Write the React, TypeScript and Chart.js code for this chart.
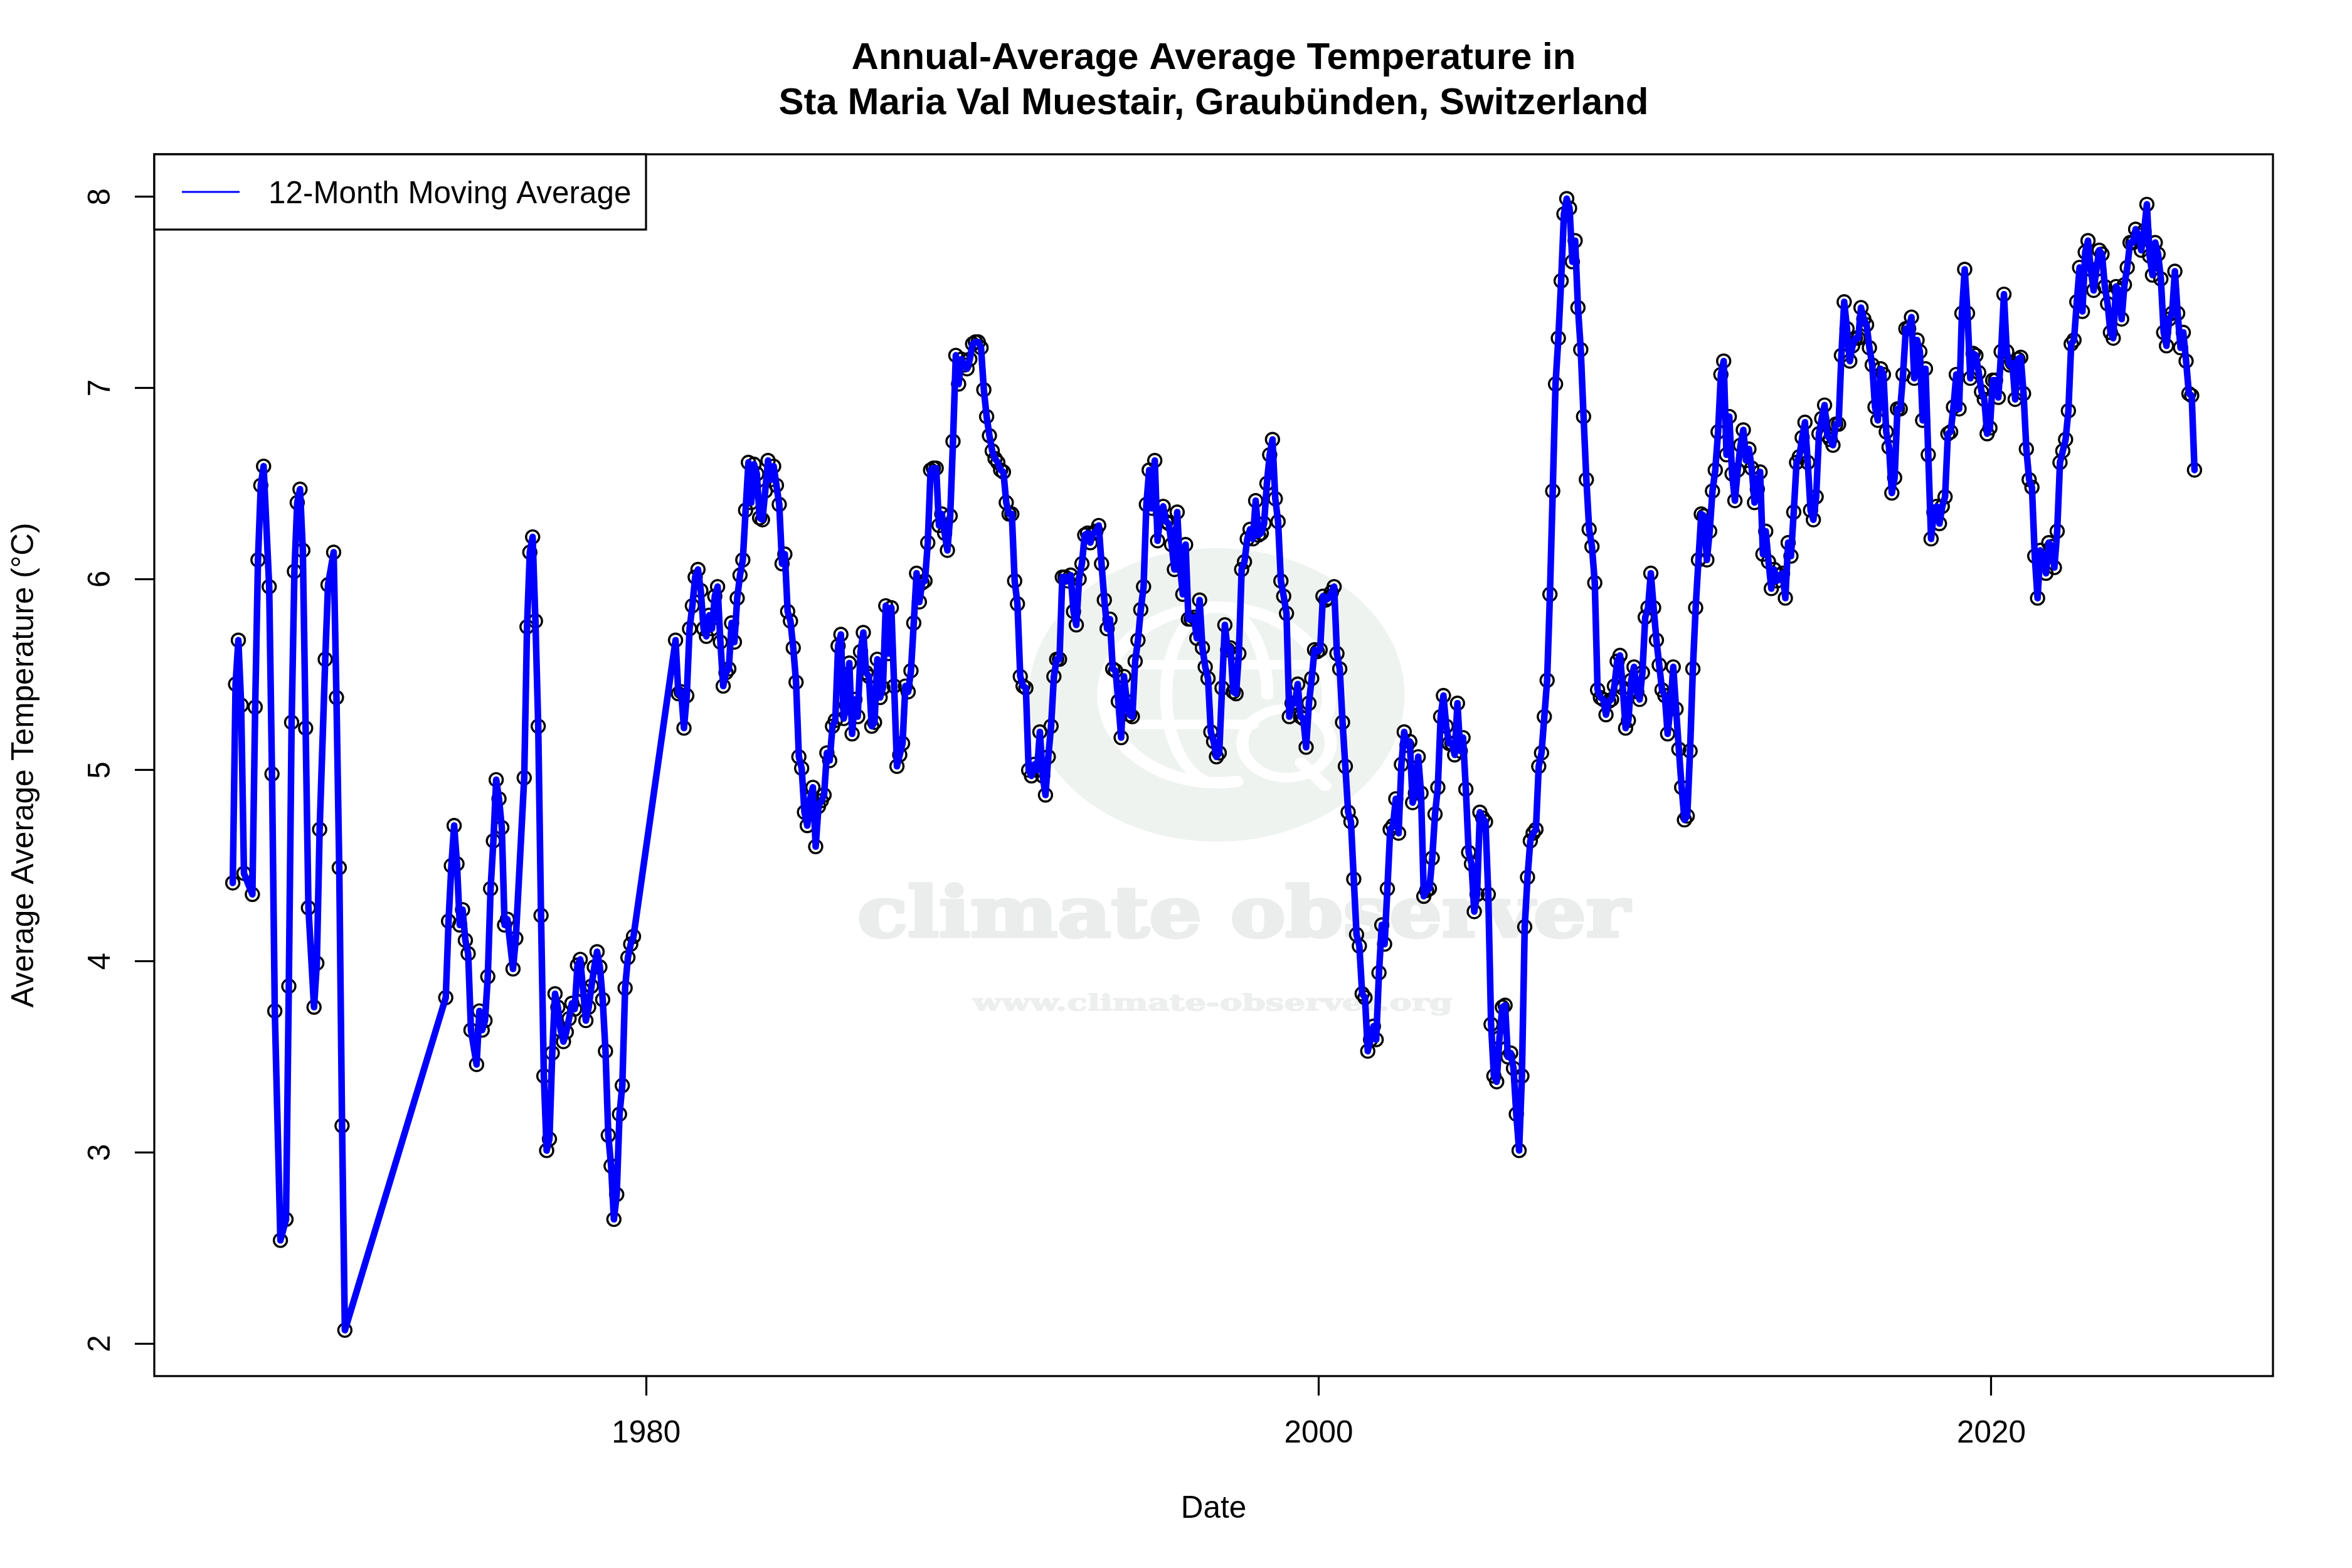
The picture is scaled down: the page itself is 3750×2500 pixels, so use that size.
import React, { useEffect, useRef } from "react";
import { Chart, registerables } from "chart.js";

Chart.register(...registerables);

const titleLines = ["Annual-Average Average Temperature in", "Sta Maria Val Muestair, Graubünden, Switzerland"];
const seriesLabel = "12-Month Moving Average";
const xAxisTitle = "Date";
const yAxisTitle = "Average Average Temperature (°C)";
const xTickYears = [1980, 2000, 2020];
const yTickValues = [2, 3, 4, 5, 6, 7, 8];

// Monthly readings; null marks a month with no plotted point. Start: Sep 1967.
const temps1967: (number | null)[] = [
  4.41, 5.45, 5.68, 5.34, 4.46, null, null, 4.35, 5.33, 6.1, 6.49, 6.59, null, 5.96, 4.98, 3.74, null, 2.54, null, 2.65,
  3.87, 5.25, 6.04, 6.4, 6.47, 6.15, 5.22, 4.28, null, 3.76, 3.99, 4.69, null, 5.58, 5.97, null, 6.14, 5.38, 4.49, 3.14, 2.07,
];
// Start: Jan 1974.
const temps1974: (number | null)[] = [
  3.81, 4.21, 4.5, 4.71, 4.51, 4.19, 4.27, 4.11, 4.04, 3.64, null, 3.46, 3.74, 3.64, 3.69, 3.92, 4.38, 4.63, 4.95, 4.85,
  4.7, 4.19, 4.22, null, 3.96, 4.12, null, null, 4.96, 5.75, 6.14, 6.22, 5.78, 5.23, 4.24, 3.4, 3.01, 3.07, 3.52, 3.83,
  3.76, 3.64, 3.58, 3.63, 3.7, 3.78, 3.75, 3.98, 4.01, 3.85, 3.69, 3.76, 3.87, 3.97, 4.05, 3.97, 3.8, 3.53, 3.09, 2.93,
  2.65, 2.78, 3.2, 3.35, 3.86, 4.02, 4.09, 4.13,
];
// Start: Nov 1980.
const temps1980: number[] = [
  5.68, 5.4, 5.41, 5.22, 5.39, 5.74, 5.86, 6.01, 6.05, 5.94, 5.74, 5.7, 5.81, 5.74, 5.91, 5.96, 5.67, 5.44, 5.51, 5.53,
  5.77, 5.67, 5.9, 6.02, 6.1, 6.36, 6.61, 6.4, 6.6, 6.55, 6.32, 6.31, 6.46, 6.62, 6.52, 6.59, 6.49, 6.39, 6.08, 6.13,
  5.83, 5.78, 5.64, 5.46, 5.07, 5.01, 4.78, 4.71, 4.85, 4.91, 4.6, 4.81, 4.84, 4.87, 5.09, 5.05, 5.23, 5.26, 5.65, 5.71,
  5.27, 5.34, 5.56, 5.19, 5.37, 5.28, 5.62, 5.72, 5.51, 5.49, 5.23, 5.25, 5.58, 5.38, 5.43, 5.86, 5.61, 5.85, 5.44, 5.02,
  5.08, 5.14, 5.44, 5.41, 5.52, 5.77, 6.03, 5.88, 5.98, 5.99, 6.19, 6.57, 6.58, 6.58, 6.28, 6.34, 6.24, 6.15, 6.33, 6.72,
  7.17, 7.02, 7.15, 7.12, 7.1, 7.15, 7.23, 7.24, 7.24, 7.21, 6.99, 6.85, 6.75, 6.67, 6.63, 6.61, 6.57, 6.56, 6.4, 6.34,
  6.34, 5.99, 5.87, 5.49, 5.44, 5.43, 5.0, 4.97, 5.03, 5.0, 5.2, 4.97, 4.87, 5.07, 5.23, 5.49, 5.58, 5.58, 6.01, 6.01,
  5.99, 6.02, 5.83, 5.76, 6.0, 6.08, 6.23, 6.24, 6.19, 6.24, 6.25, 6.28, 6.08, 5.89, 5.74, 5.79, 5.53, 5.52, 5.36, 5.17,
  5.49, 5.36, 5.29, 5.28, 5.57, 5.68, 5.84, 5.96, 6.39, 6.57, 6.37, 6.62, 6.2, 6.34, 6.38, 6.3, 6.29, 6.18, 6.05, 6.35,
  6.07, 5.92, 6.18, 5.79, 5.79, 5.8, 5.69, 5.89, 5.64, 5.54, 5.48, 5.2, 5.15, 5.07, 5.09, 5.43, 5.76, 5.63, 5.64, 5.41,
  5.4, 5.61, 6.05, 6.09, 6.21, 6.26, 6.21, 6.41, 6.23, 6.24, 6.29, 6.5, 6.65, 6.73, 6.42, 6.3, 5.99, 5.91, 5.82, 5.28,
  5.35, 5.35, 5.45, 5.28, 5.27, 5.12, 5.35, 5.48, 5.63, 5.62, 5.63, 5.91, 5.89, 5.9, 5.93, 5.96, 5.61, 5.53, 5.25, 5.02,
  4.78, 4.73, 4.43, 4.14, 4.08, 3.83, 3.81, 3.53, 3.59, 3.66, 3.59, 3.94, 4.19, 4.09, 4.38, 4.69, 4.71, 4.85, 4.67, 5.03,
  5.2, 5.13, 5.15, 4.83, 4.88, 5.07, 4.88, 4.34, 4.37, 4.38, 4.54, 4.77, 4.91, 5.28, 5.39, 5.23, 5.14, 5.14, 5.08, 5.35,
  5.1, 5.17, 4.9, 4.57, 4.51, 4.26, 4.35, 4.78, 4.75, 4.73, 4.35, 3.67, 3.4, 3.37, 3.6, 3.76, 3.77, 3.5, 3.52, 3.44,
  3.2, 3.01, 3.4, 4.18, 4.44, 4.63, 4.67, 4.69, 5.02, 5.09, 5.28, 5.47, 5.92, 6.46, 7.02, 7.26, 7.56, 7.91, 7.99, 7.94,
  7.66, 7.77, 7.42, 7.2, 6.85, 6.52, 6.26, 6.17, 5.98, 5.42, 5.38, 5.37, 5.29, 5.36, 5.37, 5.44, 5.57, 5.6, 5.43, 5.22,
  5.26, 5.47, 5.54, 5.41, 5.37, 5.51, 5.8, 5.85, 6.03, 5.85, 5.68, 5.55, 5.42, 5.39, 5.19, 5.33, 5.54, 5.32, 5.11, 4.91,
  4.74, 4.76, 5.1, 5.53, 5.85, 6.1, 6.34, 6.33, 6.1, 6.25, 6.46, 6.57, 6.77, 7.07, 7.14, 6.65, 6.85, 6.55, 6.41, 6.57,
  6.7, 6.78, 6.62, 6.68, 6.58, 6.4, 6.47, 6.56, 6.13, 6.25, 6.09, 5.95, 6.05, 5.99, 6.02, 6.03, 5.9, 6.19, 6.12, 6.35,
  6.61, 6.64, 6.74, 6.82, 6.61, 6.36, 6.31, 6.43, 6.76, 6.84, 6.91, 6.75, 6.73, 6.7, 6.81, 6.81, 7.17, 7.45, 7.31, 7.14,
  7.22, 7.26, 7.26, 7.42, 7.36, 7.33, 7.21, 7.12, 6.9, 6.83, 7.1, 7.07, 6.77, 6.69, 6.45, 6.53, 6.89, 6.89, 7.07, 7.31,
  7.31, 7.37, 7.05, 7.25, 7.19, 6.83, 7.1, 6.65, 6.21, 6.35, 6.38, 6.29, 6.38, 6.43, 6.76, 6.77, 6.9, 7.07, 6.89, 7.39,
  7.62, 7.39, 7.05, 7.18, 7.17, 7.08, 6.98, 6.94, 6.76, 6.79, 7.04, 7.04, 6.95, 7.19, 7.49, 7.19, 7.12, 7.13, 6.94, 7.15,
  7.16, 6.97, 6.68, 6.52, 6.48, 6.12, 5.9, 6.15, 6.12, 6.03, 6.19, 6.17, 6.06, 6.25, 6.61, 6.67, 6.73, 6.88, 7.23, 7.25,
  7.45, 7.63, 7.4, 7.71, 7.77, 7.62, 7.51, 7.62, 7.72, 7.7, 7.53, 7.44, 7.29, 7.26, 7.53, 7.51, 7.36, 7.54, 7.63, 7.76,
  7.76, 7.83, 7.8, 7.72, 7.82, 7.96, 7.69, 7.59, 7.76, 7.7, 7.57, 7.29, 7.22, 7.36, 7.39, 7.61, 7.39, 7.21, 7.29, 7.14,
  6.97, 6.96, 6.57,
];

const seriesStarts: [number, number, (number | null)[]][] = [
  [1967, 9, temps1967],
  [1974, 1, temps1974],
  [1980, 11, temps1980],
];

const points: { x: number; y: number }[] = [];
for (const [year, month, values] of seriesStarts) {
  values.forEach((v, i) => {
    if (v !== null) points.push({ x: year + (month - 1 + i + 0.5) / 12, y: v });
  });
}

const FONT = '"Liberation Sans", Arial, sans-serif';
const LABEL_SIZE = 49.4;

const watermark = {
  id: "watermark",
  beforeDatasetsDraw(chart: Chart) {
    const ctx = chart.ctx;
    ctx.save();
    ctx.translate(1940, 1108);
    ctx.scale(1.28, 1);
    ctx.fillStyle = "#EFF3F0";
    ctx.beginPath();
    ctx.arc(0, 0, 234, 0, Math.PI * 2);
    ctx.fill();
    ctx.strokeStyle = "#FFFFFF";
    ctx.lineCap = "round";
    const rad = (d: number) => (d * Math.PI) / 180;
    ctx.lineWidth = 18;
    ctx.beginPath();
    ctx.arc(0, 0, 140, rad(80), rad(375));
    ctx.stroke();
    ctx.lineWidth = 15;
    ctx.beginPath();
    ctx.ellipse(0, 0, 63, 140, 0, rad(105), rad(360));
    ctx.stroke();
    ctx.beginPath();
    ctx.moveTo(-132, -48);
    ctx.lineTo(132, -48);
    ctx.moveTo(-132, 47);
    ctx.lineTo(45, 47);
    ctx.stroke();
    ctx.beginPath();
    ctx.arc(87, 77, 55, 0, Math.PI * 2);
    ctx.stroke();
    ctx.lineWidth = 16;
    ctx.beginPath();
    ctx.moveTo(105, 108);
    ctx.lineTo(135, 145);
    ctx.stroke();
    ctx.restore();

    const stretched = (
      text: string,
      font: string,
      color: string,
      left: number,
      right: number,
      base: number,
      heavy: number,
    ) => {
      ctx.save();
      ctx.font = font;
      ctx.fillStyle = color;
      ctx.strokeStyle = color;
      ctx.lineWidth = heavy;
      ctx.lineJoin = "round";
      ctx.textAlign = "left";
      ctx.textBaseline = "alphabetic";
      const w = ctx.measureText(text).width;
      ctx.translate(left, base);
      ctx.scale((right - left) / w, 1);
      ctx.fillText(text, 0, 0);
      ctx.strokeText(text, 0, 0);
      ctx.restore();
    };
    stretched("climate observer", 'bold 110px "DejaVu Serif"', "#EBEDED", 1367, 2598, 1493, 5);
    stretched("www.climate-observer.org", 'bold 35px "DejaVu Serif"', "#EDEEEE", 1551, 2316, 1611, 1.5);
  },
};

const frameAndLegend = {
  id: "frameAndLegend",
  afterDraw(chart: Chart) {
    const ctx = chart.ctx;
    const { left, top, right, bottom } = chart.chartArea;
    ctx.save();
    ctx.strokeStyle = "#000000";
    ctx.lineWidth = 3.2;
    ctx.strokeRect(left, top, right - left, bottom - top);
    // legend box
    ctx.fillStyle = "#FFFFFF";
    ctx.fillRect(left, top, 784, 120);
    ctx.strokeRect(left, top, 784, 120);
    ctx.strokeStyle = "#0000FF";
    ctx.beginPath();
    ctx.moveTo(left + 44, top + 60);
    ctx.lineTo(left + 136, top + 60);
    ctx.stroke();
    ctx.fillStyle = "#000000";
    ctx.font = `${LABEL_SIZE}px ${FONT}`;
    ctx.textAlign = "left";
    ctx.textBaseline = "alphabetic";
    ctx.fillText(seriesLabel, left + 182, top + 78);
    ctx.restore();
  },
};

export default function App() {
  const ref = useRef<HTMLCanvasElement>(null);
  useEffect(() => {
    document.body.style.margin = "0";
    const chart = new Chart(ref.current!, {
      type: "scatter",
      data: {
        datasets: [
          {
            label: seriesLabel,
            data: points,
            showLine: true,
            borderColor: "#0000FF",
            borderWidth: 10.5,
            borderJoinStyle: "round",
            borderCapStyle: "round",
            pointRadius: 0,
            tension: 0,
            order: 1,
          },
          {
            label: "Monthly points",
            data: points,
            showLine: false,
            pointStyle: "circle",
            pointRadius: 10.5,
            pointBorderWidth: 3.4,
            pointBorderColor: "#000000",
            pointBackgroundColor: "rgba(0,0,0,0)",
            order: 2,
          },
        ],
      },
      options: {
        responsive: false,
        animation: false,
        devicePixelRatio: 1,
        layout: { padding: { left: 0, right: 126, top: 0, bottom: 0 } },
        plugins: {
          legend: { display: false },
          tooltip: { enabled: false },
          title: {
            display: true,
            text: titleLines,
            fullSize: false,
            color: "#000000",
            font: { family: FONT, size: 60, weight: "bold", lineHeight: 1.2 },
            padding: { top: 57, bottom: 45 },
          },
        },
        scales: {
          x: {
            type: "linear",
            min: 1965.375,
            max: 2028.375,
            afterBuildTicks: (s: any) => {
              s.ticks = xTickYears.map((value) => ({ value }));
            },
            afterFit: (s: any) => {
              s.height = 306;
            },
            grid: { display: true, drawOnChartArea: false, tickLength: 31, tickWidth: 3.2, tickColor: "#000000" },
            border: { display: false },
            ticks: {
              color: "#000000",
              font: { family: FONT, size: LABEL_SIZE },
              padding: 32,
              maxRotation: 0,
              callback: (v: any) => String(v),
            },
            title: {
              display: true,
              text: xAxisTitle,
              color: "#000000",
              font: { family: FONT, size: LABEL_SIZE },
              padding: { top: 0, bottom: 64 },
            },
          },
          y: {
            type: "linear",
            min: 1.83,
            max: 8.222,
            afterBuildTicks: (s: any) => {
              s.ticks = yTickValues.map((value) => ({ value }));
            },
            afterFit: (s: any) => {
              s.width = 246;
            },
            grid: { display: true, drawOnChartArea: false, tickLength: 31, tickWidth: 3.2, tickColor: "#000000" },
            border: { display: false },
            ticks: {
              color: "#000000",
              font: { family: FONT, size: LABEL_SIZE },
              padding: 40,
              minRotation: 90,
              maxRotation: 90,
              crossAlign: "center",
              callback: (v: any) => String(v),
            },
            title: {
              display: true,
              text: yAxisTitle,
              color: "#000000",
              font: { family: FONT, size: LABEL_SIZE },
              padding: { top: 10, bottom: 0 },
            },
          },
        },
      },
      plugins: [watermark, frameAndLegend],
    } as any);
    return () => chart.destroy();
  }, []);
  return (
    <div style={{ position: "absolute", left: 0, top: 0, width: 3750, height: 2500, background: "#FFFFFF" }}>
      <canvas ref={ref} width={3750} height={2500} style={{ display: "block", width: 3750, height: 2500 }} />
    </div>
  );
}
